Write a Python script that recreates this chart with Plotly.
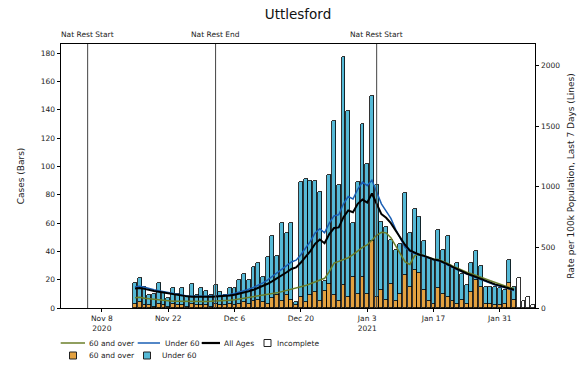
import pandas as pd
import plotly.graph_objects as go

# ---------------- data ----------------
start_date = "2020-11-15"
complete_days = 81
over60_cases = [3, 4, 2, 2, 1, 3, 2, 1, 3, 2,
                2, 1, 3, 2, 2, 2, 1, 3, 2, 2,
                3, 2, 3, 4, 3, 5, 6, 4, 3, 7,
                9, 5, 9, 6, 2, 8, 4, 9, 11, 5,
                12, 17, 9, 5, 16, 8, 22, 10, 22, 10,
                47, 8, 13, 6, 17, 5, 10, 23, 15, 27,
                25, 13, 5, 3, 14, 10, 8, 5, 3, 6,
                3, 11, 20, 15, 3, 3, 2, 2, 3, 18, 6]
total_cases = [18, 21, 15, 9, 10, 18, 11, 7, 14, 10,
               14, 8, 17, 9, 14, 12, 9, 16, 11, 9,
               14, 14, 20, 24, 20, 29, 32, 22, 36, 51,
               37, 60, 53, 60, 4, 89, 91, 90, 90, 82,
               19, 94, 132, 87, 177, 139, 60, 89, 130, 102,
               150, 87, 61, 57, 48, 41, 45, 81, 53, 70,
               64, 47, 35, 34, 55, 41, 51, 29, 32, 24,
               16, 32, 40, 30, 15, 15, 15, 14, 13, 34, 15]
under60_cases = [t - o for t, o in zip(total_cases, over60_cases)]
incomplete_cases = [21, 5, 8, 2]

rate_all = [160, 165, 158, 148, 140, 135, 128, 120, 112, 106,
            100, 96, 93, 92, 92, 92, 93, 95, 97, 100,
            104, 110, 118, 128, 138, 150, 165, 180, 200, 222,
            245, 270, 295, 322, 335, 375, 420, 470, 530, 565,
            535, 610, 660, 665, 750, 805, 790, 860, 895, 870,
            945, 860, 775, 745, 700, 640, 580, 520, 475, 455,
            440, 430, 415, 400, 395, 380, 360, 340, 320, 300,
            285, 270, 255, 235, 220, 205, 195, 185, 175, 160, 150]
rate_under60 = [175, 180, 172, 160, 150, 143, 135, 126, 118, 110,
                104, 99, 96, 95, 95, 95, 97, 100, 103, 107,
                112, 120, 130, 142, 155, 170, 188, 208, 232, 260,
                288, 318, 350, 380, 395, 440, 495, 550, 620, 655,
                620, 700, 760, 770, 860, 920, 900, 980, 1040, 1010,
                1056, 960, 860, 800, 740, 650, 570, 500, 470, 450,
                440, 428, 412, 398, 392, 375, 355, 335, 315, 295,
                280, 265, 250, 230, 215, 200, 190, 180, 170, 155, 145]
rate_over60 = [85, 88, 80, 75, 70, 66, 62, 58, 56, 55,
               54, 52, 52, 52, 53, 54, 55, 56, 58, 60,
               64, 68, 74, 80, 88, 96, 104, 110, 112, 118,
               125, 135, 145, 155, 160, 175, 185, 200, 215, 230,
               245, 300, 370, 385, 400, 415, 440, 470, 500, 520,
               560, 600, 625, 620, 580, 510, 450, 380, 360, 430,
               445, 430, 420, 405, 400, 385, 368, 348, 330, 310,
               295, 282, 270, 255, 240, 225, 210, 195, 180, 170, 162]

event_dates = ["2020-11-05", "2020-12-02", "2021-01-05"]
event_labels = ["Nat Rest Start", "Nat Rest End", "Nat Rest Start"]

tick_dates = ["2020-11-08", "2020-11-22", "2020-12-06", "2020-12-20",
              "2021-01-03", "2021-01-17", "2021-01-31"]
tick_labels = ["Nov 8<br>2020", "Nov 22", "Dec 6", "Dec 20",
               "Jan 3<br>2021", "Jan 17", "Jan 31"]

dates = pd.date_range(start_date, periods=complete_days, freq="D")
inc_dates = pd.date_range(dates[-1] + pd.Timedelta(days=1),
                          periods=len(incomplete_cases), freq="D")

# ---------------- style ----------------
FONT = "DejaVu Sans"
C_ORANGE = "#E3A140"
C_SKY = "#55B9D6"
C_OLIVE = "#6B7F2A"
C_BLUE = "#1A5FB4"
BAR_W = 0.82 * 86400000

L, R, T, B = 61, 45, 44, 58
PW, PH = 580 - L - R, 366 - T - B


def px_x(p):
    return (p - L) / PW


def px_y(p):
    return (366 - B - p) / PH


fig = go.Figure()

fig.add_trace(go.Bar(x=dates, y=over60_cases, name="60 and over",
                     marker=dict(color=C_ORANGE, line=dict(color="black", width=0.8)),
                     width=BAR_W))
fig.add_trace(go.Bar(x=dates, y=under60_cases, name="Under 60",
                     marker=dict(color=C_SKY, line=dict(color="black", width=0.8)),
                     width=BAR_W))
fig.add_trace(go.Bar(x=inc_dates, y=incomplete_cases, name="Incomplete",
                     marker=dict(color="white", line=dict(color="black", width=0.8)),
                     width=BAR_W))

fig.add_trace(go.Scatter(x=dates, y=rate_over60, name="60 and over", mode="lines",
                         line=dict(color=C_OLIVE, width=1.5), yaxis="y2"))
fig.add_trace(go.Scatter(x=dates, y=rate_under60, name="Under 60", mode="lines",
                         line=dict(color=C_BLUE, width=1.5), yaxis="y2"))
fig.add_trace(go.Scatter(x=dates, y=rate_all, name="All Ages", mode="lines",
                         line=dict(color="black", width=2), yaxis="y2"))

for d, lab in zip(event_dates, event_labels):
    fig.add_shape(type="line", xref="x", yref="paper", x0=d, x1=d, y0=0, y1=1,
                  line=dict(color="#444444", width=1), layer="above")
    fig.add_annotation(x=d, xref="x", y=1, yref="paper", text=lab, showarrow=False,
                       yanchor="bottom", yshift=3, font=dict(family=FONT, size=7.5, color="#222"))

# ---- legend (drawn as a key below the plot) ----
legend_lines = [("60 and over", C_OLIVE, 1.5, 60.7, 85, 86.7),
                ("Under 60", C_BLUE, 1.5, 137.7, 160, 163),
                ("All Ages", "black", 2.2, 201.7, 220, 222)]
ROW1, ROW2 = 343, 355.5
for name, col, w, xa, xb, xt in legend_lines:
    fig.add_shape(type="line", xref="paper", yref="paper",
                  x0=px_x(xa), x1=px_x(xb), y0=px_y(ROW1), y1=px_y(ROW1),
                  line=dict(color=col, width=w))
    fig.add_annotation(x=px_x(xt), y=px_y(ROW1), xref="paper", yref="paper", text=name,
                       showarrow=False, xanchor="left", yanchor="middle",
                       font=dict(family=FONT, size=7.5, color="#222"))
legend_boxes = [("Incomplete", "white", 264, ROW1, 275),
                ("60 and over", C_ORANGE, 69.5, ROW2, 86.7),
                ("Under 60", C_SKY, 143.5, ROW2, 160)]
for name, col, xb, yrow, xt in legend_boxes:
    fig.add_shape(type="rect", xref="paper", yref="paper",
                  x0=px_x(xb), x1=px_x(xb + 7), y0=px_y(yrow - 3.5), y1=px_y(yrow + 3.5),
                  fillcolor=col, line=dict(color="#222", width=1))
    fig.add_annotation(x=px_x(xt), y=px_y(yrow), xref="paper", yref="paper", text=name,
                       showarrow=False, xanchor="left", yanchor="middle",
                       font=dict(family=FONT, size=7.5, color="#222"))

axis_common = dict(showline=True, linecolor="black", linewidth=0.8, ticks="outside",
                   ticklen=3.5, tickwidth=0.8, tickcolor="black", showgrid=False,
                   zeroline=False, automargin=False,
                   tickfont=dict(family=FONT, size=7.5, color="#222"))

fig.update_layout(
    width=580, height=366,
    margin=dict(l=L, r=R, t=T, b=B, autoexpand=False),
    paper_bgcolor="white", plot_bgcolor="white",
    barmode="stack", bargap=0,
    showlegend=False,
    font=dict(family=FONT, color="#222"),
    title=dict(text="Uttlesford", x=(L + PW / 2) / 580, xanchor="center",
               y=1 - 14.5 / 366, yanchor="middle", yref="container",
               font=dict(family=FONT, size=13.5, color="#111")),
    xaxis=dict(axis_common, type="date", mirror=True,
               range=["2020-10-30 09:00", "2021-02-07 10:00"],
               tickvals=tick_dates, ticktext=tick_labels),
    yaxis=dict(axis_common, range=[0, 186.4], tickvals=list(range(0, 181, 20)),
               mirror=False,
               title=dict(text="Cases (Bars)", standoff=14,
                          font=dict(family=FONT, size=9, color="#222"))),
    yaxis2=dict(axis_common, overlaying="y", side="right", range=[0, 2179],
                tickvals=[0, 500, 1000, 1500, 2000],
                title=dict(text="Rate per 100k Population, Last 7 Days (Lines)", standoff=8,
                           font=dict(family=FONT, size=9, color="#222"))),
)

fig.write_html("out.html", config={"displayModeBar": False},
               post_script="document.body.style.margin='0';")
